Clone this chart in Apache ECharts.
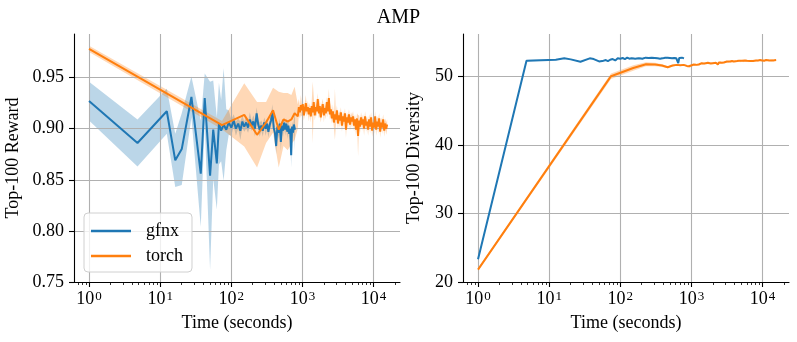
<!DOCTYPE html>
<html>
<head>
<meta charset="utf-8">
<script src="https://cdn.jsdelivr.net/npm/echarts@6/dist/echarts.min.js"></script>
<style>
html, body { margin: 0; padding: 0; background: #fff; }
#chart { width: 797px; height: 342px; }
</style>
</head>
<body>
<div id="chart"></div>
<script>
// ---- data ----
var gfnxTime = [1, 4.8, 12.4, 16.3, 20.1, 27.5, 37.2, 42.3, 50.3, 55.7, 62.6, 67, 72,
  78, 85, 92, 100, 108, 116, 125, 134, 143, 152,
  162, 172, 182, 193, 204, 215, 227, 239, 251,
  264, 277, 290, 304, 318, 332, 347, 362, 378, 394,
  410, 427, 444, 461, 479, 497, 515, 534, 553,
  572, 592, 612, 632, 652, 673, 694, 715, 736, 758, 785];
var gfnxReward = [0.927, 0.886, 0.917, 0.869, 0.880, 0.931, 0.856, 0.930, 0.854, 0.899, 0.866, 0.905, 0.898,
  0.904, 0.899, 0.906, 0.901, 0.908, 0.900, 0.905, 0.898, 0.907, 0.902,
  0.906, 0.901, 0.909, 0.903, 0.907, 0.900, 0.915, 0.904, 0.899,
  0.903, 0.898, 0.906, 0.900, 0.905, 0.897, 0.904, 0.908, 0.917, 0.901,
  0.896, 0.883, 0.902, 0.896, 0.905, 0.887, 0.903, 0.898, 0.906,
  0.899, 0.905, 0.897, 0.903, 0.895, 0.900, 0.874, 0.902, 0.896, 0.904, 0.899];
var gfnxRewardSpread = [0.019, 0.023, 0.022, 0.026, 0.035, 0.020, 0.052, 0.024, 0.092, 0.048, 0.045, 0.040, 0.030,
  0.055, 0.020, 0.012, 0.008, 0.006, 0.007, 0.005, 0.009, 0.006, 0.005,
  0.006, 0.005, 0.007, 0.005, 0.006, 0.008, 0.006, 0.005, 0.007,
  0.005, 0.006, 0.005, 0.007, 0.005, 0.006, 0.005, 0.006, 0.007, 0.005,
  0.006, 0.008, 0.005, 0.006, 0.005, 0.009, 0.005, 0.006, 0.005,
  0.006, 0.005, 0.007, 0.005, 0.006, 0.005, 0.012, 0.005, 0.006, 0.005, 0.020];
var gfnxDiversity = [23.3, 52.25, 52.4, 52.6, 52.45, 52.1, 52.6, 52.5, 52.15, 52.2, 52.35, 52.2, 52.4,
  52.5, 52.3, 52.6, 52.55, 52.65, 52.5, 52.7, 52.55, 52.6, 52.7,
  52.55, 52.65, 52.6, 52.7, 52.55, 52.65, 52.7, 52.6, 52.65,
  52.6, 52.7, 52.55, 52.65, 52.7, 52.6, 52.65, 52.55, 52.7, 52.6,
  52.65, 52.7, 52.6, 52.7, 52.55, 52.65, 52.7, 52.6, 52.7,
  52.65, 52.7, 52.6, 52.7, 51.9, 52.65, 52.7, 52.6, 52.7, 52.65, 52.6];
var gfnxDiversitySpread = [0.15, 0.1, 0.08, 0.06, 0.07, 0.08, 0.06, 0.07, 0.05, 0.08, 0.06, 0.07, 0.06,
  0.08, 0.06, 0.07, 0.09, 0.06, 0.08, 0.07, 0.06, 0.08, 0.07,
  0.06, 0.08, 0.07, 0.06, 0.09, 0.07, 0.06, 0.08, 0.07,
  0.06, 0.08, 0.07, 0.06, 0.08, 0.07, 0.09, 0.06, 0.07, 0.08,
  0.07, 0.06, 0.08, 0.07, 0.06, 0.09, 0.07, 0.06, 0.08,
  0.07, 0.06, 0.08, 0.07, 0.25, 0.07, 0.06, 0.08, 0.07, 0.06, 0.08];

var torchTime = [1, 74, 152, 230, 308, 386, 464, 542, 620, 698, 776,
  860, 890, 920, 950, 980, 1010, 1045, 1080, 1115, 1150, 1190, 1230, 1270,
  1310, 1350, 1395, 1440, 1490, 1540, 1590, 1640, 1700, 1750, 1810, 1870, 1930, 2000, 2060, 2130, 2200, 2270, 2350, 2430,
  2510, 2590, 2680, 2770, 2860, 2950, 3050, 3150, 3250, 3360, 3470, 3590, 3710, 3830, 3960, 4090, 4220, 4360, 4510, 4660, 4810, 4970,
  5140, 5310, 5480, 5660, 5850, 6050, 6250, 6450, 6670, 6890, 7110, 7350, 7590, 7840,
  8100, 8370, 8650, 8930, 9230, 9530, 9850, 10170, 10510, 10860, 11220, 11590, 11970, 12370, 12780, 13200, 13640, 14090, 14550, 15030, 15500];
var torchReward = [0.978, 0.9035, 0.9135, 0.894, 0.906, 0.918, 0.899, 0.909, 0.907, 0.909, 0.915,
  0.912, 0.921, 0.916, 0.923, 0.918, 0.924, 0.913, 0.919, 0.925, 0.917, 0.921, 0.914, 0.920,
  0.912, 0.922, 0.916, 0.926, 0.913, 0.921, 0.917, 0.929, 0.915, 0.922, 0.911, 0.919, 0.924, 0.913, 0.920, 0.915, 0.926, 0.917, 0.930, 0.914,
  0.919, 0.910, 0.917, 0.906, 0.914, 0.909, 0.918, 0.905, 0.913, 0.908, 0.916, 0.903, 0.912, 0.907, 0.915, 0.899, 0.911, 0.906, 0.914, 0.904, 0.911, 0.907,
  0.912, 0.903, 0.909, 0.899, 0.910, 0.893, 0.908, 0.902, 0.911, 0.904, 0.909, 0.900, 0.912, 0.903,
  0.907, 0.899, 0.909, 0.902, 0.911, 0.898, 0.906, 0.901, 0.912, 0.899, 0.907, 0.902, 0.910, 0.897, 0.906, 0.901, 0.909, 0.898, 0.905, 0.900, 0.904];
var torchRewardSpread = [0.003, 0.004, 0.031, 0.032, 0.020, 0.022, 0.037, 0.026, 0.028, 0.024, 0.026,
  0.012, 0.008, 0.006, 0.010, 0.006, 0.007, 0.005, 0.006, 0.008, 0.005, 0.006, 0.007, 0.005,
  0.006, 0.005, 0.030, 0.006, 0.005, 0.007, 0.005, 0.006, 0.005, 0.008, 0.005, 0.006, 0.005, 0.007, 0.005, 0.006, 0.005, 0.006, 0.009, 0.005,
  0.006, 0.005, 0.007, 0.005, 0.025, 0.006, 0.005, 0.006, 0.005, 0.007, 0.005, 0.006, 0.005, 0.006, 0.005, 0.008, 0.005, 0.006, 0.005, 0.006, 0.005, 0.006,
  0.005, 0.006, 0.005, 0.007, 0.005, 0.020, 0.005, 0.006, 0.005, 0.006, 0.005, 0.007, 0.005, 0.006,
  0.005, 0.006, 0.005, 0.007, 0.005, 0.006, 0.005, 0.006, 0.005, 0.006, 0.005, 0.007, 0.005, 0.006, 0.005, 0.006, 0.005, 0.006, 0.005, 0.006, 0.005];
var torchDiversity = [21.8, 50.0, 51.2, 51.75, 51.7, 51.55, 51.3, 51.55, 51.65, 51.6, 51.65,
  51.5, 51.35, 51.45, 51.3, 51.5, 51.6, 51.55, 51.7, 51.6, 51.75, 51.65, 51.8, 51.7,
  51.85, 51.75, 51.9, 51.8, 51.85, 51.75, 51.9, 51.85, 51.95, 51.8, 51.9, 51.85, 51.95, 51.9, 52.0, 51.85, 51.95, 51.9, 51.7, 52.0,
  52.0, 52.05, 51.95, 52.1, 52.0, 52.1, 52.05, 52.15, 52.0, 52.1, 52.15, 52.05, 52.2, 52.1, 52.15, 52.2, 52.1, 52.2, 52.15, 52.25, 52.15, 52.2,
  52.25, 52.15, 52.2, 52.3, 52.2, 52.25, 52.15, 52.3, 52.2, 52.25, 52.3, 52.2, 52.3, 52.25,
  52.3, 52.2, 52.3, 52.25, 52.35, 52.25, 52.3, 52.35, 52.25, 52.3, 52.35, 52.3, 52.4, 52.3, 52.35, 52.3, 52.4, 52.3, 52.35, 52.3, 52.35];
var torchDiversitySpread = [0.2, 0.4, 0.4, 0.3, 0.25, 0.2, 0.15, 0.12, 0.12, 0.1, 0.12,
  0.12, 0.1, 0.11, 0.09, 0.12, 0.1, 0.11, 0.09, 0.1, 0.12, 0.1, 0.09, 0.11,
  0.1, 0.12, 0.09, 0.11, 0.1, 0.09, 0.12, 0.1, 0.11, 0.09, 0.1, 0.12, 0.09, 0.11, 0.1, 0.09, 0.12, 0.1, 0.11, 0.09,
  0.1, 0.12, 0.09, 0.11, 0.1, 0.09, 0.12, 0.1, 0.11, 0.09, 0.1, 0.12, 0.09, 0.11, 0.1, 0.09, 0.12, 0.1, 0.11, 0.09, 0.1, 0.12,
  0.09, 0.11, 0.1, 0.09, 0.12, 0.1, 0.11, 0.09, 0.1, 0.12, 0.09, 0.11, 0.1, 0.09,
  0.12, 0.1, 0.11, 0.09, 0.1, 0.12, 0.09, 0.11, 0.1, 0.09, 0.12, 0.1, 0.11, 0.09, 0.1, 0.12, 0.09, 0.11, 0.1, 0.09, 0.1];

var majorTicks = [1, 10, 100, 1000, 10000];
var minorTicks = [0.7, 0.8, 0.9, 2, 3, 4, 5, 6, 7, 8, 9, 20, 30, 40, 50, 60, 70, 80, 90,
  200, 300, 400, 500, 600, 700, 800, 900, 2000, 3000, 4000, 5000, 6000, 7000, 8000, 9000, 20000];
var rewardTicks = [0.75, 0.80, 0.85, 0.90, 0.95];
var diversityTicks = [20, 30, 40, 50];

var FONT = "'Liberation Serif', 'DejaVu Serif', serif";
var BLUE = '#1f77b4', ORANGE = '#ff7f0e';

function pairs(t, v) {
  return t.map(function (x, i) { return [x, v[i]]; });
}

function xAxes(grid, name) {
  return [{
    type: 'log', logBase: 10, gridIndex: grid, min: 0.615, max: 23500,
    position: 'bottom',
    name: name, nameLocation: 'middle', nameGap: 32,
    nameTextStyle: { fontFamily: FONT, fontSize: 18, color: '#000' },
    axisLine: { lineStyle: { color: '#000', width: 1.1 } },
    axisTick: { customValues: majorTicks, length: 5, lineStyle: { color: '#000', width: 1.1 } },
    axisLabel: {
      customValues: majorTicks, margin: 8, color: '#000',
      formatter: function (v) {
        return '{b|10}{e|' + Math.round(Math.log10(v)) + '}';
      },
      rich: {
        b: { fontFamily: FONT, fontSize: 18, color: '#000' },
        e: { fontFamily: FONT, fontSize: 13, color: '#000', verticalAlign: 'top', padding: [0, 0, 0, 1] }
      }
    },
    splitLine: { show: true, lineStyle: { color: '#b0b0b0', width: 1.1 } }
  }, {
    type: 'log', logBase: 10, gridIndex: grid, min: 0.615, max: 23500,
    position: 'bottom',
    axisLine: { show: false },
    axisTick: { customValues: minorTicks, length: 3, lineStyle: { color: '#000', width: 0.8 } },
    axisLabel: { show: false },
    splitLine: { show: false }
  }];
}

function yAxis(grid, min, max, ticks, name, gap, digits) {
  return {
    type: 'value', gridIndex: grid, min: min, max: max,
    name: name, nameLocation: 'middle', nameGap: gap, nameRotate: 90,
    nameTextStyle: { fontFamily: FONT, fontSize: 18, color: '#000' },
    axisLine: { show: true, lineStyle: { color: '#000', width: 1.1 } },
    axisTick: { show: true, customValues: ticks, length: 5, lineStyle: { color: '#000', width: 1.1 } },
    axisLabel: {
      customValues: ticks, margin: 10, fontFamily: FONT, fontSize: 18, color: '#000',
      formatter: function (v) { return v.toFixed(digits); }
    },
    splitLine: { show: true, lineStyle: { color: '#b0b0b0', width: 1.1 } }
  };
}

// shaded spread: one polygon through the upper edge and back along the lower edge
function band(times, mean, spread, color, xi, yi) {
  var data = times.map(function (t, i) { return [t, mean[i] - spread[i], mean[i] + spread[i]]; });
  return {
    type: 'custom', xAxisIndex: xi, yAxisIndex: yi, data: data, silent: true, z: -1, clip: true,
    encode: { x: 0, y: [1, 2] },
    renderItem: function (params, api) {
      if (params.dataIndexInside !== 0) return null;
      var up = [], dn = [];
      for (var i = 0; i < params.dataInsideLength; i++) {
        up.push(api.coord([api.value(0, i), api.value(2, i)]));
        dn.push(api.coord([api.value(0, i), api.value(1, i)]));
      }
      return { type: 'polygon', shape: { points: up.concat(dn.reverse()) }, style: { fill: color } };
    }
  };
}

function line(name, times, values, color, xi, yi, z) {
  return { type: 'line', name: name, xAxisIndex: xi, yAxisIndex: yi, data: pairs(times, values),
    symbol: 'none', z: z, lineStyle: { color: color, width: 2 }, itemStyle: { color: color } };
}

var chart = echarts.init(document.getElementById('chart'));
var option = {
  animation: false,
  backgroundColor: '#fff',
  title: { text: 'AMP', left: 'center', top: 3,
    textStyle: { fontFamily: FONT, fontSize: 20, fontWeight: 'normal', color: '#000' } },
  legend: {
    data: ['gfnx', 'torch'], orient: 'vertical', left: 84, top: 213,
    padding: [9, 9, 7, 7], itemGap: 7, itemWidth: 40, itemHeight: 2.5, icon: 'rect',
    backgroundColor: 'rgba(255,255,255,0.8)', borderColor: '#d0d0d0', borderWidth: 1, borderRadius: 4,
    selectedMode: false,
    textStyle: { fontFamily: FONT, fontSize: 18, color: '#000', lineHeight: 18, padding: [0, 0, 0, 10] }
  },
  grid: [
    { left: 74, top: 34, width: 326, height: 248 },
    { left: 463, top: 34, width: 326, height: 248 }
  ],
  xAxis: xAxes(0, 'Time (seconds)').concat(xAxes(1, 'Time (seconds)')),
  yAxis: [
    yAxis(0, 0.75, 0.9926, rewardTicks, 'Top-100 Reward', 52, 2),
    yAxis(1, 20, 56.15, diversityTicks, 'Top-100 Diversity', 40, 0)
  ],
  series: [
    line('gfnx', gfnxTime, gfnxReward, BLUE, 0, 0, 3),
    line('torch', torchTime, torchReward, ORANGE, 0, 0, 4),
    line('gfnx', gfnxTime, gfnxDiversity, BLUE, 2, 1, 3),
    line('torch', torchTime, torchDiversity, ORANGE, 2, 1, 4),
    band(gfnxTime, gfnxReward, gfnxRewardSpread, 'rgba(31,119,180,0.3)', 0, 0),
    band(torchTime, torchReward, torchRewardSpread, 'rgba(255,127,14,0.3)', 0, 0),
    band(gfnxTime, gfnxDiversity, gfnxDiversitySpread, 'rgba(31,119,180,0.3)', 2, 1),
    band(torchTime, torchDiversity, torchDiversitySpread, 'rgba(255,127,14,0.3)', 2, 1)
  ]
};
chart.setOption(option);
</script>
</body>
</html>
